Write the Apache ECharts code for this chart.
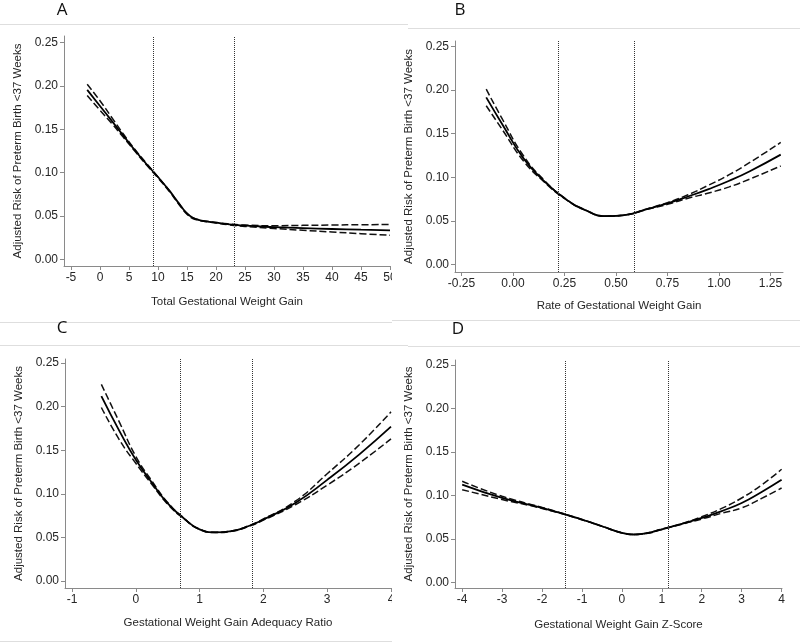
<!DOCTYPE html>
<html>
<head>
<meta charset="utf-8">
<script src="https://cdn.jsdelivr.net/npm/echarts@6/dist/echarts.min.js"></script>
<style>html,body{margin:0;padding:0;background:#fff;}#c{width:800px;height:644px;}</style>
</head>
<body>
<div id="c"></div>
<script>
// ---------- data ----------
const yTicks = [0, 0.05, 0.10, 0.15, 0.20, 0.25];
const yTitle = 'Adjusted Risk of Preterm Birth <37 Weeks';

// Panel A
const aTitle = 'Total Gestational Weight Gain';
const aTicks = [-5, 0, 5, 10, 15, 20, 25, 30, 35, 40, 45, 50];
const aRef = [9.1, 23.2];
const aX = [-2.2, 0, 2, 4, 6, 8, 10, 12, 13, 14, 15, 16, 17, 18, 20, 22, 25, 30, 35, 40, 45, 50];
const aFit = [0.1955, 0.177, 0.160, 0.143, 0.126, 0.110, 0.095, 0.079, 0.070, 0.061, 0.053, 0.048, 0.0455, 0.0440, 0.0423, 0.0405, 0.0388, 0.0372, 0.0360, 0.0350, 0.0342, 0.0335];
const aUpper = [0.202, 0.183, 0.164, 0.145, 0.127, 0.111, 0.095, 0.079, 0.070, 0.061, 0.053, 0.048, 0.0457, 0.0443, 0.0426, 0.0410, 0.0395, 0.0388, 0.0392, 0.0396, 0.0399, 0.0402];
const aLower = [0.189, 0.172, 0.157, 0.141, 0.125, 0.109, 0.094, 0.078, 0.069, 0.060, 0.052, 0.047, 0.0450, 0.0437, 0.0420, 0.0400, 0.0380, 0.0356, 0.0335, 0.0315, 0.0296, 0.0277];

// Panel B
const bTitle = 'Rate of Gestational Weight Gain';
const bTicks = [-0.25, 0, 0.25, 0.5, 0.75, 1.0, 1.25];
const bRef = [0.22, 0.59];
const bX = [-0.13, -0.05, 0.05, 0.15, 0.25, 0.35, 0.45, 0.55, 0.65, 0.75, 0.85, 0.95, 1.05, 1.15, 1.3];
const bFit = [0.1917, 0.160, 0.122, 0.096, 0.076, 0.0625, 0.0555, 0.0570, 0.0635, 0.070, 0.078, 0.0865, 0.096, 0.107, 0.126];
const bUpper = [0.201, 0.166, 0.125, 0.097, 0.0763, 0.0627, 0.0557, 0.0572, 0.0638, 0.071, 0.080, 0.091, 0.103, 0.117, 0.140];
const bLower = [0.182, 0.154, 0.119, 0.095, 0.0757, 0.0623, 0.0553, 0.0568, 0.0632, 0.069, 0.076, 0.082, 0.089, 0.098, 0.113];

// Panel C
const cTitle = 'Gestational Weight Gain Adequacy Ratio';
const cTicks = [-1, 0, 1, 2, 3, 4];
const cRef = [0.69, 1.82];
const cX = [-0.54, -0.25, 0, 0.25, 0.5, 0.75, 1.0, 1.25, 1.5, 1.75, 2.0, 2.5, 3.0, 3.5, 4.0];
const cFit = [0.212, 0.171, 0.139, 0.113, 0.089, 0.072, 0.0593, 0.0558, 0.0572, 0.0625, 0.0705, 0.0895, 0.116, 0.145, 0.177];
const cUpper = [0.2255, 0.181, 0.143, 0.115, 0.090, 0.0723, 0.0594, 0.0559, 0.0574, 0.0628, 0.0712, 0.0915, 0.123, 0.156, 0.194];
const cLower = [0.199, 0.161, 0.135, 0.111, 0.088, 0.0717, 0.0592, 0.0557, 0.0570, 0.0622, 0.0698, 0.0875, 0.110, 0.135, 0.163];

// Panel D
const dTitle = 'Gestational Weight Gain Z-Score';
const dTicks = [-4, -3, -2, -1, 0, 1, 2, 3, 4];
const dRef = [-1.42, 1.15];
const dX = [-4, -3, -2, -1, -0.5, 0, 0.3, 0.6, 1, 1.5, 2, 2.5, 3, 3.5, 4];
const dFit = [0.1124, 0.0971, 0.0856, 0.0722, 0.0645, 0.0569, 0.0550, 0.0562, 0.0610, 0.0672, 0.0741, 0.0820, 0.0913, 0.1040, 0.118];
const dUpper = [0.1162, 0.099, 0.0862, 0.0724, 0.0646, 0.0570, 0.0551, 0.0564, 0.0613, 0.0675, 0.0755, 0.085, 0.097, 0.112, 0.130];
const dLower = [0.1066, 0.0952, 0.0850, 0.0720, 0.0644, 0.0568, 0.0549, 0.0560, 0.0607, 0.0669, 0.0728, 0.0795, 0.0856, 0.0965, 0.1085];

// ---------- layout ----------
const FONT = '"Liberation Sans", Arial, sans-serif';
const panels = [
  {x: aX, fit: aFit, up: aUpper, lo: aLower, ref: aRef, ticks: aTicks, title: aTitle, dec: 0,
   grid: {left: 64, top: 36, width: 326, height: 230}, xmin: -6.2, xmax: 50, ymin: -0.0077, ymax: 0.2577, gap: 30},
  {x: bX, fit: bFit, up: bUpper, lo: bLower, ref: bRef, ticks: bTicks, title: bTitle, dec: 2,
   grid: {left: 455, top: 41, width: 328, height: 231}, xmin: -0.2816, xmax: 1.311, ymin: -0.0086, ymax: 0.2563, gap: 28},
  {x: cX, fit: cFit, up: cUpper, lo: cLower, ref: cRef, ticks: cTicks, title: cTitle, dec: 0,
   grid: {left: 65, top: 359, width: 326, height: 229}, xmin: -1.11, xmax: 4, ymin: -0.008, ymax: 0.2546, gap: 29},
  {x: dX, fit: dFit, up: dUpper, lo: dLower, ref: dRef, ticks: dTicks, title: dTitle, dec: 0,
   grid: {left: 455, top: 360, width: 327, height: 228}, xmin: -4.18, xmax: 4.01, ymin: -0.0065, ymax: 0.2557, gap: 31}
];

const zip = (xs, ys) => xs.map((v, i) => [v, ys[i]]);
const axisCol = '#8a8a8a';
const textCol = '#262626';

const grids = [], xAxes = [], yAxes = [], series = [];
panels.forEach((p, i) => {
  grids.push(Object.assign({containLabel: false}, p.grid));
  xAxes.push({
    type: 'value', gridIndex: i, min: p.xmin, max: p.xmax,
    name: p.title, nameLocation: 'middle', nameGap: p.gap,
    nameTextStyle: {fontFamily: FONT, fontSize: 11.5, color: textCol},
    splitLine: {show: false},
    axisLine: {show: true, onZero: false, lineStyle: {color: axisCol, width: 1}},
    axisTick: {show: true, length: 4, customValues: p.ticks, lineStyle: {color: axisCol}},
    axisLabel: {customValues: p.ticks, margin: 6, fontFamily: FONT, fontSize: 12, color: textCol,
      formatter: v => Number(v).toFixed(p.dec)}
  });
  yAxes.push({
    type: 'value', gridIndex: i, min: p.ymin, max: p.ymax,
    name: yTitle, nameLocation: 'middle', nameGap: 40, nameRotate: 90,
    nameTextStyle: {fontFamily: FONT, fontSize: 11.5, color: textCol},
    splitLine: {show: false},
    axisLine: {show: true, onZero: false, lineStyle: {color: axisCol, width: 1}},
    axisTick: {show: true, length: 4, customValues: yTicks, lineStyle: {color: axisCol}},
    axisLabel: {customValues: yTicks, margin: 6, fontFamily: FONT, fontSize: 12, color: textCol,
      formatter: v => Number(v).toFixed(2)}
  });
  const base = {type: 'line', xAxisIndex: i, yAxisIndex: i, showSymbol: false, symbol: 'none',
    smooth: 0.5, silent: true, animation: false};
  series.push(Object.assign({}, base, {data: zip(p.x, p.up),
    lineStyle: {color: '#111', width: 1.5, type: [7, 3]}}));
  series.push(Object.assign({}, base, {data: zip(p.x, p.lo),
    lineStyle: {color: '#111', width: 1.5, type: [7, 3]}}));
  series.push(Object.assign({}, base, {data: zip(p.x, p.fit),
    lineStyle: {color: '#000', width: 1.8, type: 'solid'},
    markLine: {silent: true, symbol: ['none', 'none'], label: {show: false}, animation: false,
      lineStyle: {color: '#333', width: 1, type: [1, 1]},
      data: p.ref.map(v => ({xAxis: v}))}}));
});

const frameCol = '#dedede';
const hl = (x1, y1, x2, y2) => ({type: 'line', shape: {x1, y1, x2, y2}, style: {stroke: frameCol, lineWidth: 1}, silent: true});
const letter = (t, x, y) => ({type: 'text', x, y, style: {text: t, fontFamily: '"Open Sans", "Liberation Sans", sans-serif', fontSize: 17, fill: '#111', align: 'center', verticalAlign: 'middle'}, silent: true});

const option = {
  animation: false,
  backgroundColor: '#fff',
  grid: grids, xAxis: xAxes, yAxis: yAxes, series,
  graphic: [
    hl(0, 24.5, 408, 24.5), hl(408, 28.5, 800, 28.5),
    hl(0, 322.5, 392, 322.5), hl(392, 320.5, 800, 320.5),
    hl(0, 345.5, 408, 345.5), hl(408, 346.5, 800, 346.5),
    hl(0, 641.5, 392, 641.5),
    {type: 'rect', shape: {x: 392, y: 272, width: 8, height: 20}, style: {fill: '#fff'}, z: 100, silent: true},
    {type: 'rect', shape: {x: 392, y: 593, width: 8, height: 20}, style: {fill: '#fff'}, z: 100, silent: true},
    letter('A', 62, 10), letter('B', 460, 10), letter('C', 62, 328), letter('D', 458, 329)
  ]
};
const chart = echarts.init(document.getElementById('c'), null, {renderer: 'canvas'});
chart.setOption(option);
</script>
</body>
</html>
